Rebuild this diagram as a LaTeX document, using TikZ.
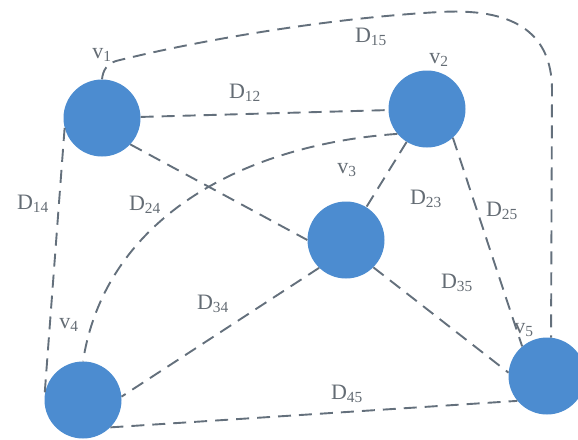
\documentclass[tikz,border=0pt]{standalone}
\usepackage{fontspec}
\setmainfont{Liberation Serif}
\usetikzlibrary{positioning}
\definecolor{vertexblue}{RGB}{76, 140, 208}
\definecolor{linkgray}{RGB}{100, 112, 124}
\definecolor{labelgray}{RGB}{100, 108, 116}

\begin{document}
\begin{tikzpicture}[x=1pt, y=-1pt]
    % Define styles
    \tikzstyle{vertex} = [circle, fill=vertexblue, minimum size=77pt, inner sep=0pt]
    \tikzstyle{link} = [draw=linkgray, line width=1.9pt, dash pattern=on 13pt off 8pt]
    \tikzstyle{tag} = [text=labelgray, font=\fontsize{22}{24}\selectfont, inner sep=1pt]

    \useasboundingbox (0,0) rectangle (578,439);
    \clip (0,0) rectangle (578,439);

    % Nodes
    \node[vertex] (v1) at (102,118) {};
    \node[vertex] (v2) at (427,109) {};
    \node[vertex] (v3) at (346,240) {};
    \node[vertex] (v4) at (83,400) {};
    \node[vertex] (v5) at (547,376) {};

    % Vertex labels
    \node[tag] (t1) at (102,55) {v\textsubscript{1}};
    \node[tag] (t2) at (439,60) {v\textsubscript{2}};
    \node[tag] (t3) at (347,170) {v\textsubscript{3}};
    \node[tag] (t4) at (69,325) {v\textsubscript{4}};
    \node[tag] (t5) at (524,330) {v\textsubscript{5}};

    % Links
    \draw[link] (v1) -- (v2);
    \draw[link] (v1.195) -- (v4.175);
    \draw[link] (v1.-43) -- (v3.west);
    \draw[link] (v2) -- (v3);
    \draw[link] (v2.-48) -- (v5.130);
    \draw[link] (v2.220) .. controls (240,145) and (105,220) .. (v4.north);
    \draw[link] (v3.-45) -- (v5.175);
    \draw[link] (v3.226) -- (v4.5);
    \draw[link] (v4.-45) -- (v5.220);
    \draw[link] (v1.north) .. controls (103,70) and (107,64) .. (116,61)
        .. controls (200,40) and (330,18) .. (440,12)
        .. controls (510,8) and (552,30) .. (552,90) -- (v5.84);

    % Link labels
    \node[tag] (d12) at (245,93) {D\textsubscript{12}};
    \node[tag] (d14) at (33,204) {D\textsubscript{14}};
    \node[tag] (d15) at (371,37) {D\textsubscript{15}};
    \node[tag] (d23) at (426,199) {D\textsubscript{23}};
    \node[tag] (d24) at (145,205) {D\textsubscript{24}};
    \node[tag] (d25) at (502,211) {D\textsubscript{25}};
    \node[tag] (d34) at (213,304) {D\textsubscript{34}};
    \node[tag] (d35) at (457,283) {D\textsubscript{35}};
    \node[tag] (d45) at (347,394) {D\textsubscript{45}};
\end{tikzpicture}
\end{document}
